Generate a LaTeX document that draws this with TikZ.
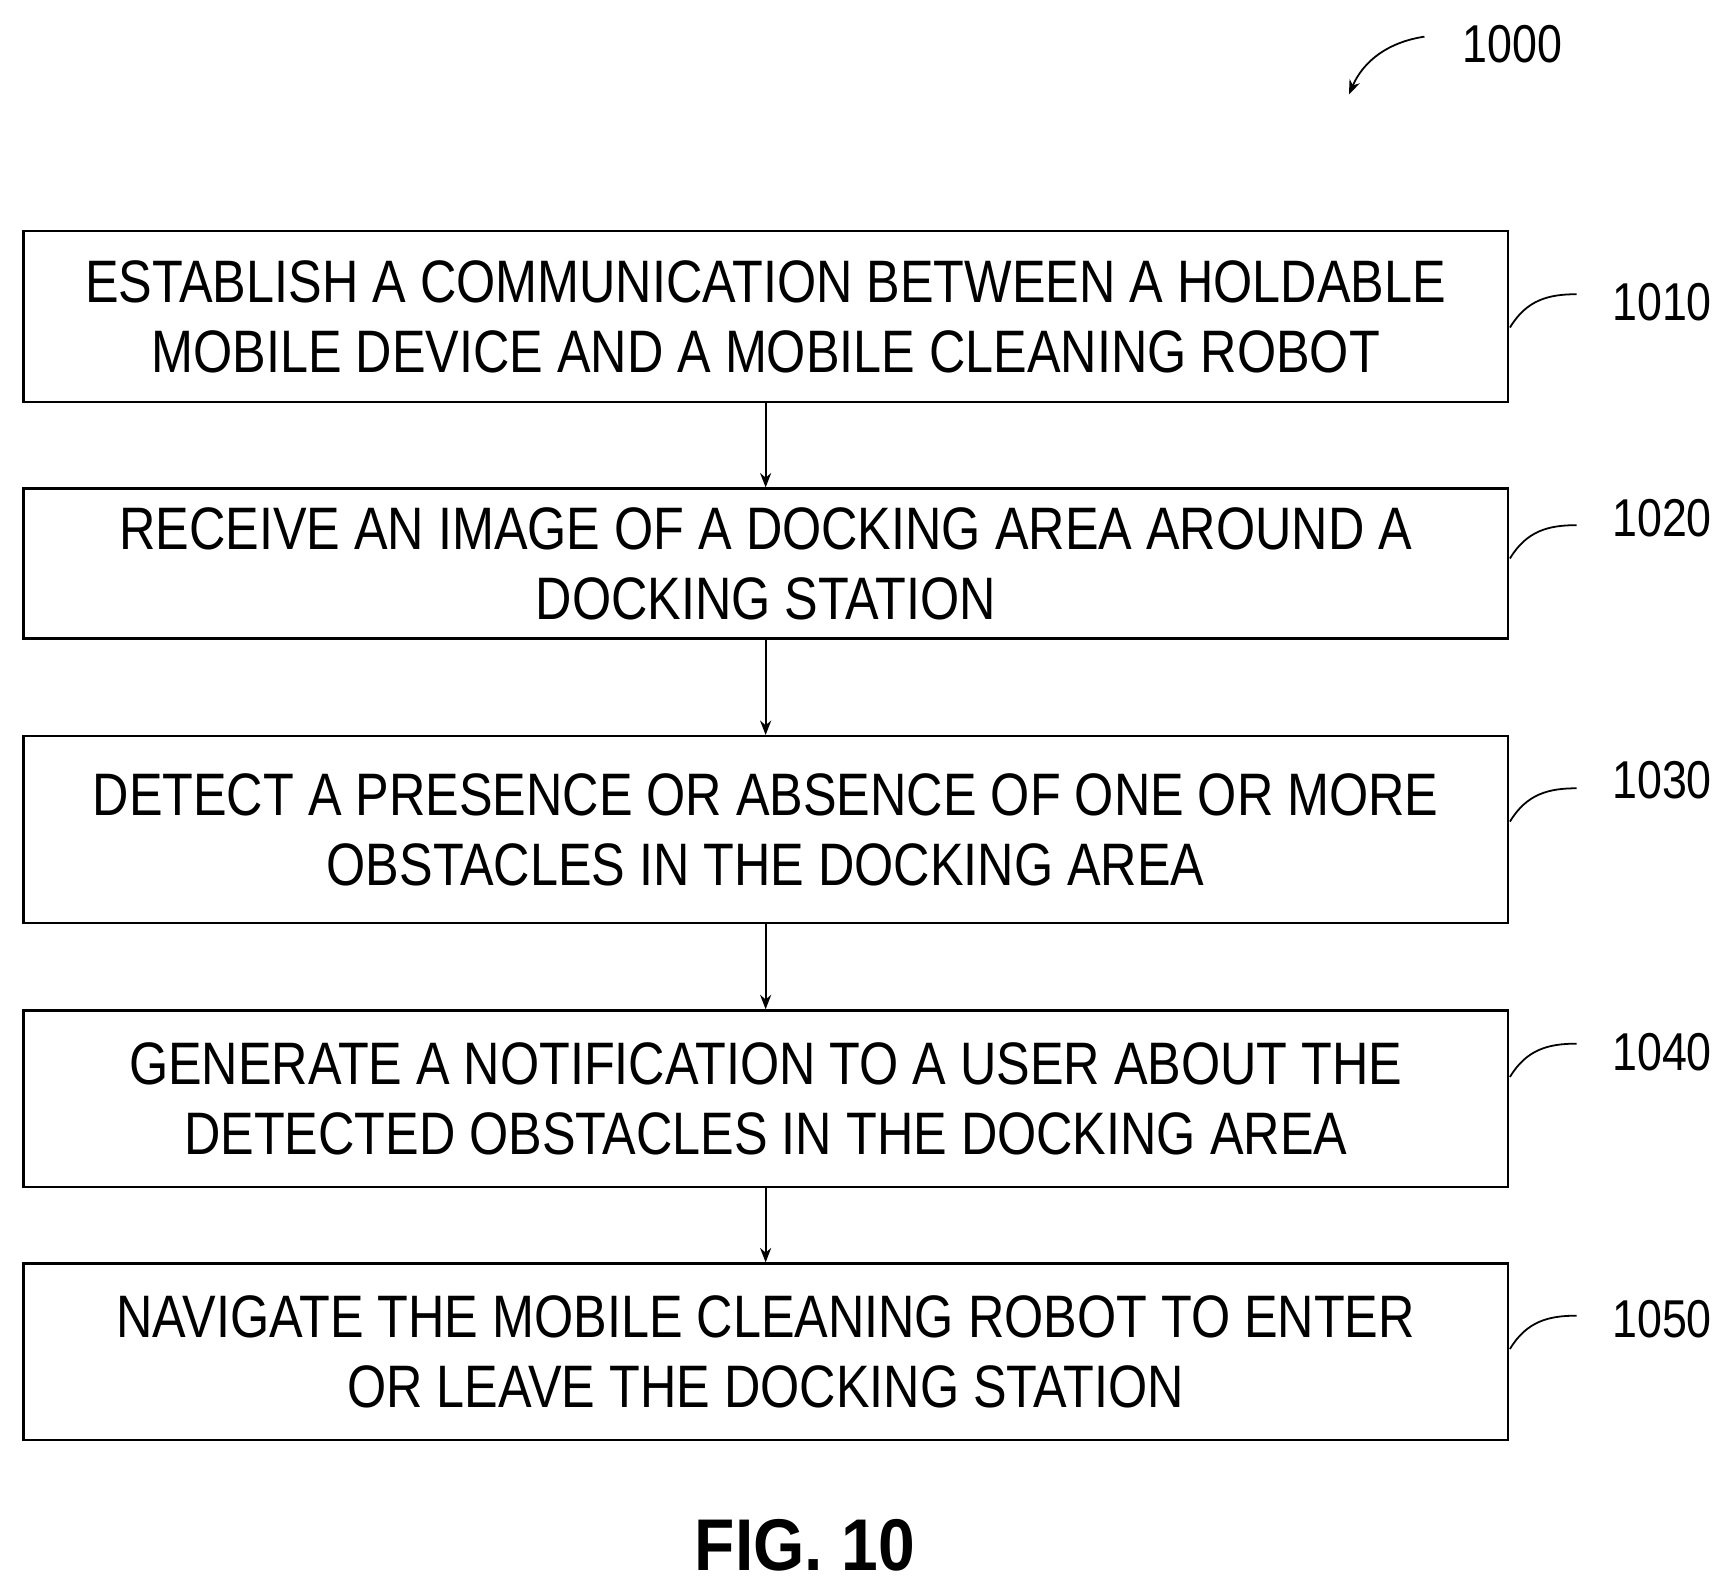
\documentclass[tikz,border=0pt]{standalone}
\usetikzlibrary{arrows.meta}
\usepackage{fontspec}
\setmainfont{Liberation Sans}[FakeStretch=0.84]
\newfontfamily\figfont{Liberation Sans}[FakeStretch=0.9]
\begin{document}
\begin{tikzpicture}[x=1pt,y=-1pt,
 box/.style={draw,line width=2.2pt,minimum width=1337pt,align=center,font=\fontsize{54}{63}\selectfont,anchor=north west,inner sep=0pt},
 lbl/.style={font=\fontsize{48}{56}\selectfont},
 arr/.style={-{Stealth[length=13pt,width=10pt]},line width=1.6pt},
 hook/.style={line width=1.6pt}]
\useasboundingbox (0,0) rectangle (1560,1430);
\node[box,minimum height=154pt] (b1) at (20,207) {ESTABLISH A COMMUNICATION BETWEEN A HOLDABLE\\MOBILE DEVICE AND A MOBILE CLEANING ROBOT};
\node[box,minimum height=135pt] (b2) at (20,439) {RECEIVE AN IMAGE OF A DOCKING AREA AROUND A\\DOCKING STATION};
\node[box,minimum height=168pt] (b3) at (20,662) {DETECT A PRESENCE OR ABSENCE OF ONE OR MORE\\OBSTACLES IN THE DOCKING AREA};
\node[box,minimum height=159pt] (b4) at (20,909) {GENERATE A NOTIFICATION TO A USER ABOUT THE\\DETECTED OBSTACLES IN THE DOCKING AREA};
\node[box,minimum height=159pt] (b5) at (20,1137) {NAVIGATE THE MOBILE CLEANING ROBOT TO ENTER\\OR LEAVE THE DOCKING STATION};
\foreach \a/\b in {b1/b2,b2/b3,b3/b4,b4/b5}{\draw[arr] (\a.south) -- (\b.north);}
\foreach \n/\y/\ly in {1010/295/272,1020/503/467,1030/740/703,1040/970/948,1050/1215/1188}{
 \node[lbl] (l\n) at (1497,\ly) {\n};
 \draw[hook] (1360,\y) .. controls (1375,\y-25) and (1395,\y-30) .. (1420,\y-30);}
\node[lbl] (l1000) at (1362,40) {1000};
\coordinate (t1000) at (1215,85);
\draw[arr] (1283,33) .. controls (1250,38) and (1228,55) .. (t1000);
\node[font=\figfont\bfseries\fontsize{66}{70}\selectfont] (fig) at (725,1392) {FIG. 10};
\end{tikzpicture}
\end{document}
